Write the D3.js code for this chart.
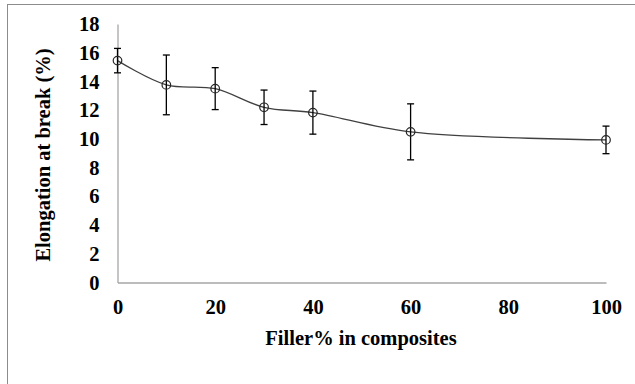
<!DOCTYPE html>
<html>
<head>
<meta charset="utf-8">
<script src="https://cdn.jsdelivr.net/npm/d3@7"></script>
<style>
body{margin:0;background:#fff}
text{font-family:"Liberation Serif","Times New Roman",serif;font-weight:bold;fill:#000}
</style>
</head>
<body>
<div id="chart"></div>
<script>
var filler = [0, 10, 20, 30, 40, 60, 100]
var elongation = [15.45, 13.76, 13.5, 12.2, 11.83, 10.49, 9.93]
var errors = [0.85, 2.08, 1.46, 1.2, 1.5, 1.95, 0.96]
var xTicks = [0, 20, 40, 60, 80, 100]
var yTicks = [0, 2, 4, 6, 8, 10, 12, 14, 16, 18]

var data = filler.map((f,i)=>({x:f,y:elongation[i],e:errors[i]}))

var svg = d3.select("#chart").append("svg")
    .attr("width",635)
    .attr("height",384)

svg.append("rect")
    .attr("x",7.5)
    .attr("y",4.5)
    .attr("width",700)
    .attr("height",500)
    .attr("fill","none")
    .attr("stroke","#8c8c8c")

var x = d3.scaleLinear().domain([0,100]).range([117.5,606])
var y = d3.scaleLinear().domain([0,18]).range([282.5,24])

// axes
var xAxis = svg.append("g")
    .attr("transform","translate(0,282.5)")
    .call(d3.axisBottom(x).tickValues(xTicks).tickSize(0).tickPadding(17))
xAxis.select(".domain").attr("stroke","#a6a6a6").attr("stroke-width",1.3)
xAxis.selectAll("text").attr("font-size",20.5)

var yAxis = svg.append("g")
    .attr("transform","translate(117.5,0)")
    .call(d3.axisLeft(y).tickValues(yTicks).tickSize(0).tickPadding(18))
yAxis.select(".domain").attr("stroke","#a6a6a6").attr("stroke-width",1.3)
yAxis.selectAll("text").attr("font-size",20.5)

svg.append("text")
    .text("Filler% in composites")
    .attr("x",361)
    .attr("y",345)
    .attr("text-anchor","middle")
    .attr("font-size",20.5)

svg.append("text")
    .text("Elongation at break (%)")
    .attr("transform","translate(50,155) rotate(-90)")
    .attr("text-anchor","middle")
    .attr("font-size",20.5)

// smoothed line
var line = d3.line()
    .x(d=>x(d.x))
    .y(d=>y(d.y))
    .curve(d3.curveCatmullRom.alpha(0.5))

svg.append("path")
    .datum(data)
    .attr("d",line)
    .attr("fill","none")
    .attr("stroke","#404040")
    .attr("stroke-width",1.3)

// error bars
var bars = svg.selectAll(".err")
    .data(data)
    .enter()
    .append("g")
    .attr("stroke","#000")
    .attr("stroke-width",1.3)

bars.append("line")
    .attr("x1",d=>x(d.x))
    .attr("x2",d=>x(d.x))
    .attr("y1",d=>y(d.y+d.e))
    .attr("y2",d=>y(d.y-d.e))

bars.append("line")
    .attr("x1",d=>x(d.x)-3.5)
    .attr("x2",d=>x(d.x)+3.5)
    .attr("y1",d=>y(d.y+d.e))
    .attr("y2",d=>y(d.y+d.e))

bars.append("line")
    .attr("x1",d=>x(d.x)-3.5)
    .attr("x2",d=>x(d.x)+3.5)
    .attr("y1",d=>y(d.y-d.e))
    .attr("y2",d=>y(d.y-d.e))

svg.selectAll(".pt")
    .data(data)
    .enter()
    .append("circle")
    .attr("cx",d=>x(d.x))
    .attr("cy",d=>y(d.y))
    .attr("r",4.3)
    .attr("fill","none")
    .attr("stroke","#262626")
    .attr("stroke-width",1.2)
</script>
</body>
</html>
